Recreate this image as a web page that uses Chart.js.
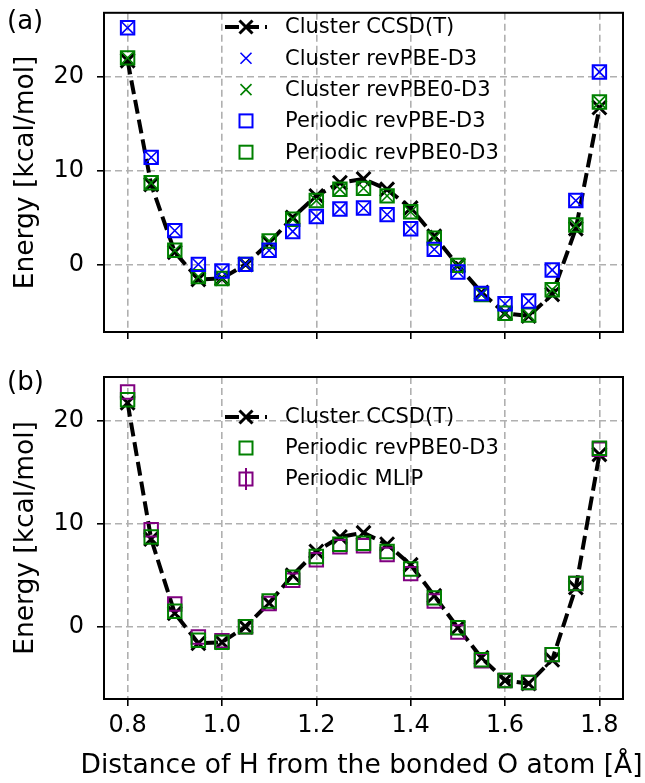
<!DOCTYPE html>
<html>
<head>
<meta charset="utf-8">
<script src="https://cdn.jsdelivr.net/npm/chart.js@4.4.0/dist/chart.umd.min.js"></script>
<style>
  body { margin: 0; background: #fff; }
  #wrap { position: relative; width: 645px; height: 783px; }
  canvas { position: absolute; left: 0; }
  #chartA { top: 0; }
  #chartB { top: 355px; }
</style>
</head>
<body>
<div id="wrap">
  <canvas id="chartA" width="645" height="345"></canvas>
  <canvas id="chartB" width="645" height="428"></canvas>
</div>
<script>
// O-H distance (Angstrom)
const distances = [0.80, 0.85, 0.90, 0.95, 1.00, 1.05, 1.10, 1.15, 1.20, 1.25, 1.30,
                   1.35, 1.40, 1.45, 1.50, 1.55, 1.60, 1.65, 1.70, 1.75, 1.80];

// energies in kcal/mol
const clusterCCSDT     = [21.7, 8.5, 1.3, -1.6, -1.5, 0.0, 2.3, 5.0, 7.3, 8.7, 9.1,
                          8.0, 6.0, 3.0, -0.1, -3.0, -5.2, -5.5, -3.2, 3.8, 16.7];
const clusterRevPBE    = [25.2, 11.4, 3.6, 0.0, -0.7, 0.0, 1.5, 3.5, 5.1, 5.9, 6.0,
                          5.3, 3.8, 1.6, -0.8, -3.1, -4.2, -3.9, -0.6, 6.8, 20.5];
const clusterRevPBE0   = [22.0, 8.7, 1.5, -1.3, -1.5, 0.0, 2.5, 4.8, 6.8, 8.0, 8.1,
                          7.3, 5.6, 2.8, -0.1, -3.2, -5.2, -5.4, -2.7, 4.2, 17.3];
const periodicRevPBE   = [25.2, 11.4, 3.6, 0.0, -0.7, 0.0, 1.5, 3.5, 5.1, 5.9, 6.0,
                          5.3, 3.8, 1.6, -0.8, -3.1, -4.2, -3.9, -0.6, 6.8, 20.5];
const periodicRevPBE0  = [22.0, 8.7, 1.5, -1.3, -1.5, 0.0, 2.5, 4.8, 6.8, 8.0, 8.1,
                          7.3, 5.6, 2.8, -0.1, -3.2, -5.2, -5.4, -2.7, 4.2, 17.3];
const periodicMLIP     = [22.75, 9.4, 2.2, -1.0, -1.35, 0.0, 2.25, 4.5, 6.5, 7.75, 7.85,
                          7.0, 5.15, 2.5, -0.5, -3.3, -5.2, -5.4, -2.7, 4.2, 17.2];

const xTicks = [0.8, 1.0, 1.2, 1.4, 1.6, 1.8];
const yTicks = [0, 10, 20];

const FONT = "'DejaVu Sans', sans-serif";
const BLUE = '#0000ff', GREEN = '#008000', PURPLE = '#800080';
const X_TITLE = 'Distance of H from the bonded O atom [Å]';

function pts(values) {
    return distances.map((d, i) => ({ x: d, y: values[i] }));
}

function squares(label, values, color) {
    return { label, data: pts(values), showLine: false, pointStyle: 'rect',
             pointRadius: 9.5, pointBorderWidth: 2, pointBorderColor: color,
             pointBackgroundColor: 'rgba(0,0,0,0)', pointHoverRadius: 9.5 };
}

function crosses(label, values, color) {
    return { label, data: pts(values), showLine: false, pointStyle: 'crossRot',
             pointRadius: 8.3, pointBorderWidth: 1.6, pointBorderColor: color,
             pointHoverRadius: 8.3 };
}

function ccsdLine(values) {
    return { label: 'Cluster CCSD(T)', data: pts(values), showLine: true,
             borderColor: '#000', borderWidth: 4, borderDash: [14, 6],
             pointStyle: 'crossRot', pointRadius: 9.8, pointBorderWidth: 3,
             pointBorderColor: '#000', pointHoverRadius: 9.8 };
}

// frame around the plot area, panel letter, and x title (not squeezed to the axis width)
const framePlugin = {
    id: 'frame',
    afterDraw(chart, args, opts) {
        const { ctx, chartArea: a } = chart;
        ctx.save();
        ctx.strokeStyle = '#000';
        ctx.lineWidth = 2;
        ctx.strokeRect(a.left, a.top, a.right - a.left, a.bottom - a.top);
        ctx.fillStyle = '#000';
        ctx.font = '26px ' + FONT;
        ctx.textBaseline = 'middle';
        ctx.fillText(opts.letter, 7, opts.letterY);
        if (opts.xTitle) {
            ctx.font = '26.5px ' + FONT;
            ctx.textAlign = 'center';
            ctx.fillText(opts.xTitle, (a.left + a.right) / 2 - 2, opts.xTitleY);
        }
        ctx.restore();
    }
};

// matplotlib-like legend without frame
const legendPlugin = {
    id: 'mplLegend',
    afterDraw(chart, args, opts) {
        const ctx = chart.ctx;
        ctx.save();
        opts.entries.forEach((e, i) => {
            const y = opts.y0 + i * opts.dy;
            const cx = opts.x;
            if (e.kind === 'line') {
                ctx.strokeStyle = '#000';
                ctx.lineWidth = 4;
                ctx.setLineDash([14, 6]);
                ctx.beginPath();
                ctx.moveTo(cx - 21, y);
                ctx.lineTo(cx + 21, y);
                ctx.stroke();
                ctx.setLineDash([]);
                ctx.lineWidth = 3;
                ctx.beginPath();
                ctx.moveTo(cx - 6.5, y - 6.5); ctx.lineTo(cx + 6.5, y + 6.5);
                ctx.moveTo(cx - 6.5, y + 6.5); ctx.lineTo(cx + 6.5, y - 6.5);
                ctx.stroke();
            } else if (e.kind === 'cross') {
                ctx.strokeStyle = e.color;
                ctx.lineWidth = 1.6;
                ctx.beginPath();
                ctx.moveTo(cx - 5.5, y - 5.5); ctx.lineTo(cx + 5.5, y + 5.5);
                ctx.moveTo(cx - 5.5, y + 5.5); ctx.lineTo(cx + 5.5, y - 5.5);
                ctx.stroke();
            } else {
                ctx.strokeStyle = e.color;
                ctx.lineWidth = 2;
                ctx.strokeRect(cx - 6.5, y - 6.5, 13, 13);
                if (e.kind === 'errsquare') {
                    ctx.beginPath();
                    ctx.moveTo(cx, y - 11); ctx.lineTo(cx, y + 11);
                    ctx.stroke();
                }
            }
            ctx.fillStyle = '#000';
            ctx.font = '21px ' + FONT;
            ctx.textBaseline = 'middle';
            ctx.fillText(e.text, opts.textX, y + 1);
        });
        ctx.restore();
    }
};

function noPad(s) {
    s.paddingTop = 0; s.paddingBottom = 0; s.paddingLeft = 0; s.paddingRight = 0;
}

function makeOptions(cfg) {
    return {
        responsive: false,
        animation: false,
        layout: { padding: { top: cfg.padTop, right: 22, left: 0, bottom: 0 } },
        plugins: {
            legend: { display: false },
            tooltip: { enabled: false },
            frame: { letter: cfg.letter, letterY: cfg.letterY,
                     xTitle: cfg.showX ? X_TITLE : null, xTitleY: 411 },
            mplLegend: cfg.legend
        },
        scales: {
            x: {
                type: 'linear', min: 0.75, max: 1.85,
                afterBuildTicks: s => { s.ticks = xTicks.map(v => ({ value: v })); },
                afterFit: s => { s.height = cfg.xHeight; noPad(s); },
                grid: { color: '#b0b0b0', lineWidth: 1.6, tickLength: 7, tickColor: '#000',
                        tickWidth: 1.6, tickBorderDash: [] },
                border: { display: false, dash: [7, 4] },
                ticks: { display: cfg.showX, padding: 5, color: '#000',
                         font: { family: FONT, size: 24 }, callback: v => v.toFixed(1) },
                title: { display: false }
            },
            y: {
                type: 'linear', min: cfg.yMin, max: cfg.yMax,
                afterBuildTicks: s => { s.ticks = yTicks.map(v => ({ value: v })); },
                afterFit: s => { s.width = 104; noPad(s); },
                grid: { color: '#b0b0b0', lineWidth: 1.6, tickLength: 7, tickColor: '#000',
                        tickWidth: 1.6, tickBorderDash: [] },
                border: { display: false, dash: [7, 4] },
                ticks: { padding: 13, color: '#000', font: { family: FONT, size: 24 } },
                title: { display: true, text: 'Energy [kcal/mol]', color: '#000',
                         font: { family: FONT, size: 26.5 }, padding: { top: 10, bottom: 0 } }
            }
        }
    };
}

document.addEventListener('DOMContentLoaded', () => {
    new Chart(document.getElementById('chartA'), {
        type: 'scatter',
        data: { datasets: [
            squares('Periodic revPBE-D3', periodicRevPBE, BLUE),
            squares('Periodic revPBE0-D3', periodicRevPBE0, GREEN),
            crosses('Cluster revPBE-D3', clusterRevPBE, BLUE),
            crosses('Cluster revPBE0-D3', clusterRevPBE0, GREEN),
            ccsdLine(clusterCCSDT)
        ] },
        options: makeOptions({
            padTop: 10, xHeight: 13, showX: false, yMin: -7.2, yMax: 26.8,
            letter: '(a)', letterY: 22,
            legend: { x: 246, textX: 285, y0: 27, dy: 31.3, entries: [
                { kind: 'line', text: 'Cluster CCSD(T)' },
                { kind: 'cross', color: BLUE, text: 'Cluster revPBE-D3' },
                { kind: 'cross', color: GREEN, text: 'Cluster revPBE0-D3' },
                { kind: 'square', color: BLUE, text: 'Periodic revPBE-D3' },
                { kind: 'square', color: GREEN, text: 'Periodic revPBE0-D3' }
            ] }
        }),
        plugins: [framePlugin, legendPlugin]
    });

    new Chart(document.getElementById('chartB'), {
        type: 'scatter',
        data: { datasets: [
            squares('Periodic revPBE0-D3', periodicRevPBE0, GREEN),
            squares('Periodic MLIP', periodicMLIP, PURPLE),
            ccsdLine(clusterCCSDT)
        ] },
        options: makeOptions({
            padTop: 22, xHeight: 84, showX: true, yMin: -7.0, yMax: 24.2,
            letter: '(b)', letterY: 28,
            legend: { x: 246, textX: 285, y0: 62, dy: 31, entries: [
                { kind: 'line', text: 'Cluster CCSD(T)' },
                { kind: 'square', color: GREEN, text: 'Periodic revPBE0-D3' },
                { kind: 'errsquare', color: PURPLE, text: 'Periodic MLIP' }
            ] }
        }),
        plugins: [framePlugin, legendPlugin]
    });
});
</script>
</body>
</html>
